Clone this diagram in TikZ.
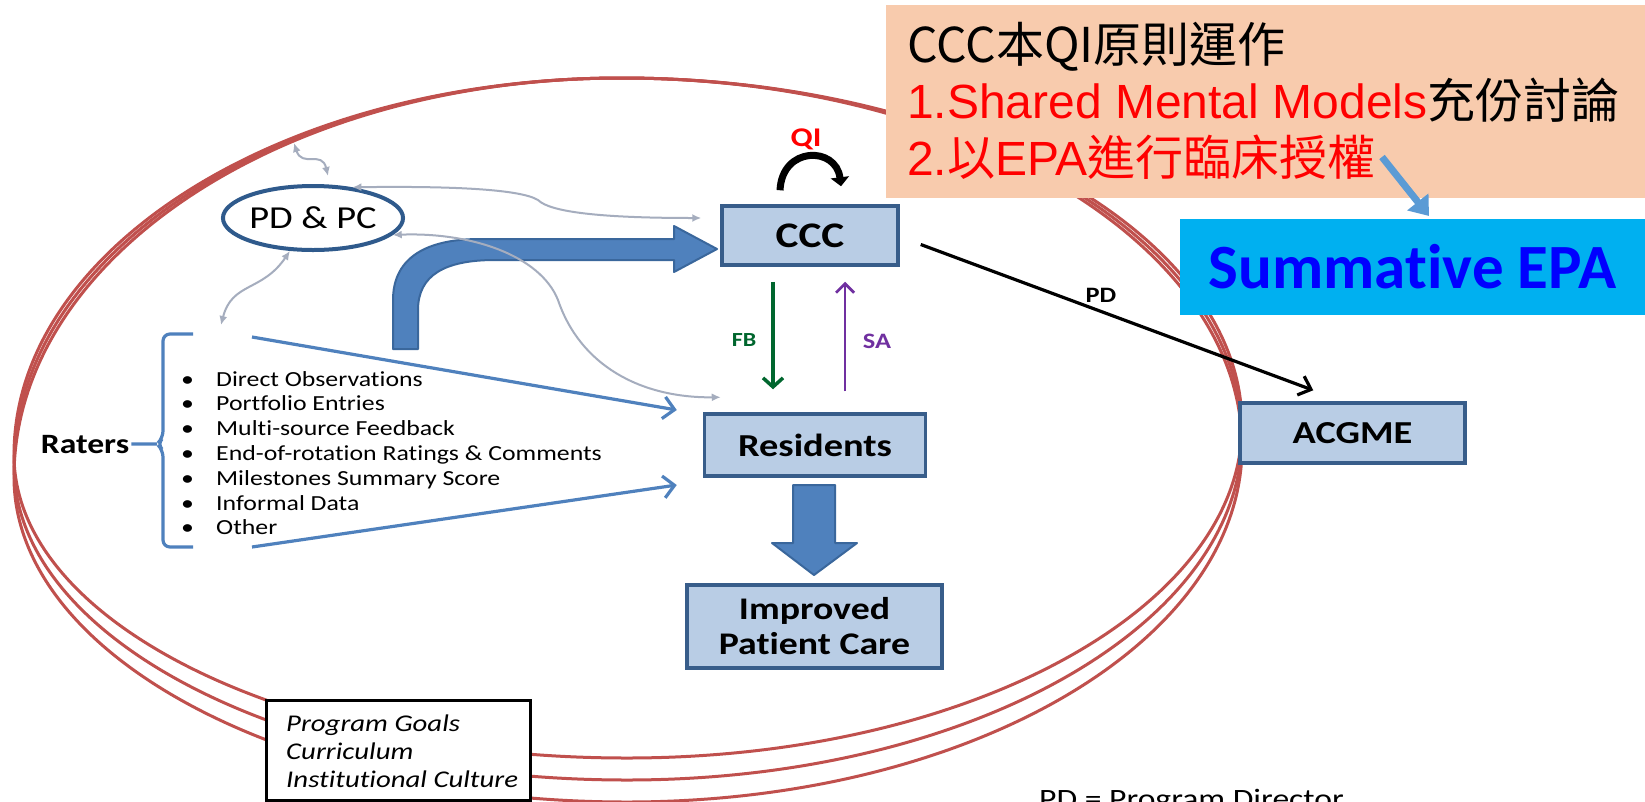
\documentclass[tikz,border=0pt]{standalone}
\usepackage{fontspec}
\usetikzlibrary{arrows.meta,shapes.geometric,calc}
\newfontfamily\dgfont[FakeStretch=1.2,Ligatures=NoCommon]{Carlito}
\newfontfamily\epafont[Ligatures=NoCommon]{Carlito}
\newfontfamily\arfont{Liberation Sans}
\newfontfamily\cjkfont{Noto Sans CJK TC}
\definecolor{ringred}{HTML}{C0504D}
\definecolor{boxfill}{HTML}{B9CDE5}
\definecolor{boxline}{HTML}{385D8A}
\definecolor{arrowblue}{HTML}{4F81BD}
\definecolor{arrowedge}{HTML}{3A679C}
\definecolor{grayarrow}{HTML}{A5ADBE}
\definecolor{peach}{HTML}{F8CBAD}
\definecolor{cyanbox}{HTML}{00B0F0}
\definecolor{epablue}{HTML}{0000FF}
\definecolor{tipblue}{HTML}{5B9BD5}
\definecolor{fbgreen}{HTML}{00662E}
\definecolor{sapurple}{HTML}{7030A0}
\definecolor{pdcblue}{HTML}{2F5A8C}
% one ring: #1 y of left extreme, #2 y of right extreme, #3 y of bottom
\newcommand\ringloop[3]{%
  \draw[ring] (621,78) .. controls (286,78) and (14,{#1-0.5523*(#1-78)}) .. (14,#1)
    .. controls (14,{#1+0.5523*(#3-#1)}) and (288,#3) .. (627,#3)
    .. controls (967,#3) and (1242,{#2+0.5523*(#3-#2)}) .. (1242,#2)
    .. controls (1242,{#2-0.5523*(#2-78)}) and (964,78) .. cycle;}
\begin{document}
\begin{tikzpicture}[x=1pt,y=-1pt,
  ring/.style={draw=ringred, line width=3},
  box/.style={draw=boxline, fill=boxfill, line width=3.5, inner sep=0,
    font=\dgfont\bfseries\fontsize{32}{36}\selectfont},
  goalbox/.style={draw=black, fill=white, line width=3, inner sep=0,
    minimum width=264, minimum height=100},
  grayconn/.style={draw=grayarrow, line width=2,
    {Latex[length=9,width=8]}-{Latex[length=9,width=8]}},
  thinblue/.style={draw=arrowblue, line width=3.2,
    -{Straight Barb[length=11,width=22,line width=3.2]}},
  bracestyle/.style={draw=arrowblue, line width=3.2, rounded corners=7},
  bigarrow/.style={fill=arrowblue, draw=arrowedge, line width=2, line join=round},
  lbl/.style={font=\dgfont\bfseries\fontsize{20}{24}\selectfont, inner sep=0},
  item/.style={anchor=base west, inner sep=0,
    font=\dgfont\fontsize{21.5}{24}\selectfont},
  peachline/.style={anchor=base west, inner sep=0, font=\fontsize{48}{56}\selectfont}
]
\clip (0,0) rectangle (1645,801);
\fill[white] (0,0) rectangle (1645,801);

% red rings
\ringloop{455}{425}{758}
\ringloop{466}{436}{780}
\ringloop{477}{447}{802}

% nodes
\node[ellipse, draw=pdcblue, line width=4, fill=white, minimum width=162, minimum height=64,
  inner sep=0, font=\dgfont\fontsize{32}{36}\selectfont] (pdpc) at (313,218) {PD \& PC};
\node[box, minimum width=176, minimum height=59,
  font=\dgfont\bfseries\fontsize{36}{40}\selectfont] (ccc) at (810,235.5) {CCC};
\node[box, minimum width=221, minimum height=62] (res) at (815,445) {Residents};
\node[box, minimum width=255, minimum height=83, align=center,
  font=\dgfont\bfseries\fontsize{31.5}{35}\selectfont] (imp) at (814.5,626.5) {Improved\\Patient Care};
\node[box, minimum width=225, minimum height=60] (acgme) at (1352.5,433) {ACGME};
\node[goalbox] (goals) at (398,750) {};
\node[anchor=west, inner sep=0, align=left, font=\dgfont\itshape\fontsize{24}{28}\selectfont]
  (goaltext) at (286,751) {Program Goals\\Curriculum\\Institutional Culture};

% raters and list
\node[anchor=base, inner sep=2, font=\dgfont\bfseries\fontsize{28}{32}\selectfont] (raters) at (85,453) {Raters};
\coordinate (bracemid) at (157,444);
\draw[bracestyle] (193,334) -- (163,334) -- (163,438) -- (bracemid) -- (163,450) -- (163,547) -- (193,547);
\draw[draw=arrowblue, line width=3.2] (raters.east) -- (bracemid);
\foreach \t [count=\i from 0] in {Direct Observations, Portfolio Entries, Multi-source Feedback,
  End-of-rotation Ratings \& Comments, Milestones Summary Score, Informal Data, Other}{
  \node[item] (item\i) at (181,386+24.8*\i) {\makebox[35pt][l]{\textbullet}\t};
}

% thin blue arrows
\coordinate (bt) at (252,337);
\coordinate (bb) at (252,547);
\draw[thinblue] (bt) -- ($(res.west)+(-26,-35)$);
\draw[thinblue] (bb) -- ($(res.west)+(-26,40)$);

% big bent arrow
\filldraw[bigarrow] (393,349) -- (393,300) .. controls (393,262) and (420,239) .. (480,239)
  -- (674,239) -- (674,226) -- (717,249) -- (674,272) -- (674,260) -- (495,260)
  .. controls (445,260) and (418,275) .. (418,310) -- (418,349) -- cycle;

% big down arrow
\filldraw[bigarrow] (793,485) -- (835,485) -- (835,543) -- (857,543) -- (814,575)
  -- (772,543) -- (793,543) -- cycle;

% gray connectors
\coordinate (ga1) at (294,143);
\coordinate (ga2) at (328,176);
\draw[grayconn] (ga1) .. controls (302,168) and (322,150) .. (ga2);
\draw[grayconn] (pdpc.38) .. controls (450,186) and (520,189) .. (538,200)
  .. controls (550,212) and (600,218) .. ($(ccc.west)+(-19,-17.5)$);
\draw[grayconn] (pdpc.-12) .. controls (470,232) and (540,255) .. (558,300)
  .. controls (580,365) and (640,398) .. ($(res.north west)+(18,-15)$);
\coordinate (gd) at (221,325);
\draw[grayconn] (pdpc.-125) .. controls (262,292) and (232,282) .. (gd);

% QI loop
\draw[line width=7, -{Triangle[length=9,width=18]}] ($(ccc.north)+(-30,-14)$)
  .. controls (782,146) and (836,146) .. ($(ccc.north)+(31,-18)$);
\node[lbl, text=red, font=\dgfont\bfseries\fontsize{27}{30}\selectfont] (qi) at (806,139) {QI};

% FB / SA
\draw[fbgreen, line width=3.5, -{Straight Barb[length=9,width=20,line width=3.5]}]
  ($(ccc.south)+(-37,15)$) -- ($(res.north)+(-42,-23)$);
\node[lbl, text=fbgreen] (fb) at (744,340) {FB};
\draw[sapurple, line width=2.8, -{Straight Barb[length=9,width=18,line width=2.8]}]
  ($(res.north)+(30,-21)$) -- ($(ccc.south)+(35,15)$);
\node[lbl, text=sapurple, font=\dgfont\bfseries\fontsize{22}{24}\selectfont] (sa) at (877,341) {SA};

% PD arrow
\draw[line width=3.2, -{Straight Barb[length=11,width=20,line width=3.2]}]
  ($(ccc.east)+(21,9)$) -- ($(acgme.north west)+(75,-11)$);
\node[lbl, font=\dgfont\bfseries\fontsize{22}{24}\selectfont] (pdl) at (1101,295) {PD};

% legend (cut by the lower edge, as in the source)
\node[anchor=base west, inner sep=0, font=\dgfont\fontsize{28}{32}\selectfont] (legend) at (1039,808) {PD = Program Director};

% peach note
\node[fill=peach, minimum width=759, minimum height=193, anchor=north west, inner sep=0] (note) at (886,5) {};
\node[peachline] (l1) at (907,62) {\cjkfont CCC本QI原則運作};
\node[peachline] (l2) at (907,118) {{\arfont\color{red}1.Shared Mental Models}{\cjkfont 充份討論}};
\node[peachline, text=red] (l3) at (907,175) {{\arfont 2.}{\cjkfont 以}{\arfont EPA}{\cjkfont 進行臨床授權}};

% summative
\node[fill=cyanbox, minimum width=465, minimum height=96, inner sep=0,
  text=epablue, font=\epafont\bfseries\fontsize{63}{66}\selectfont] (sum) at (1412.5,267) {Summative EPA};
\coordinate (ta) at (1382,157);
\coordinate (tb) at (1429,216);
\draw[tipblue, line width=7, -{Triangle[length=18,width=26]}] (ta) -- (tb);
\end{tikzpicture}
\end{document}
